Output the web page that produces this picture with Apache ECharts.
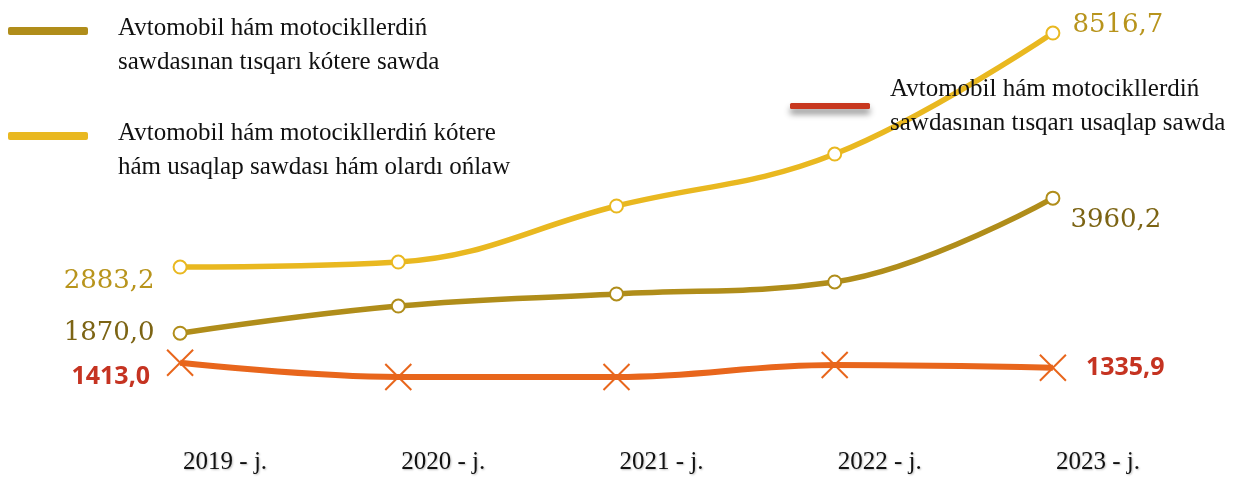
<!DOCTYPE html>
<html>
<head>
<meta charset="utf-8">
<script src="https://cdn.jsdelivr.net/npm/echarts@6/dist/echarts.min.js"></script>
<style>
  html, body { margin: 0; padding: 0; background: #fff; }
  #chart { width: 1250px; height: 481px; }
</style>
</head>
<body>
<div id="chart"></div>
<script>
// kategoriyalar (jıllar)
const years = ['2019 - j.', '2020 - j.', '2021 - j.', '2022 - j.', '2023 - j.']

// seriya atları (legend ushın qatarlarǵa bólingen)
const nameWholesale = 'Avtomobil hám motocikllerdiń\nsawdasınan tısqarı kótere sawda'
const nameMotor = 'Avtomobil hám motocikllerdiń kótere\nhám usaqlap sawdası hám olardı ońlaw'
const nameRetail = 'Avtomobil hám motocikllerdiń\nsawdasınan tısqarı usaqlap sawda'

// mánisler
const wholesale = [1870.0, 2290, 2477, 2663, 3960.2]
const motor = [2883.2, 3003, 4352, 5603, 8516.7]
const retail = [1413.0, 1192, 1192, 1378, 1335.9]

const chart = echarts.init(document.getElementById('chart'))

// tek birinshi hám sońǵı noqatlarǵa jazıw qoyamız
function withEndLabels (values, first, last) {
  return values.map((v, i) => {
    if (i === 0) return { value: v, label: Object.assign({ show: true, position: 'left' }, first) }
    if (i === values.length - 1) return { value: v, label: Object.assign({ show: true, position: 'right' }, last) }
    return v
  })
}

const serifNum = { fontFamily: 'DejaVu Serif', fontSize: 26 }
const boldRed = { fontFamily: 'Noto Sans', fontWeight: 'bold', fontSize: 25, color: '#C53321' }

// legend teksti sızıqtan sál tómende turıwı ushın bos qatar qosamız
const legendText = {
  fontFamily: 'Liberation Serif', fontSize: 25, lineHeight: 34, color: '#111',
  rich: {
    s: { fontSize: 10, lineHeight: 28 },
    t: { fontFamily: 'Liberation Serif', fontSize: 25, lineHeight: 34, color: '#111', padding: [0, 0, 0, 25] }
  }
}
const shiftDown = name => '{s| }\n' + name.split('\n').map(l => '{t|' + l + '}').join('\n')

const option = {
  animation: false,
  grid: { left: 71, right: 88, top: 20, bottom: 40 },
  legend: [
    {
      left: 8, top: -17, padding: 0,
      icon: 'roundRect', itemWidth: 80, itemHeight: 8,
      textStyle: legendText,
      formatter: shiftDown,
      data: [{ name: nameWholesale, itemStyle: { color: '#B08D1A', borderWidth: 0 } }]
    },
    {
      left: 8, top: 88, padding: 0,
      icon: 'roundRect', itemWidth: 80, itemHeight: 8,
      textStyle: legendText,
      formatter: shiftDown,
      data: [{ name: nameMotor, itemStyle: { color: '#E9B820', borderWidth: 0 } }]
    },
    {
      left: 790, top: 72, padding: 0,
      icon: 'roundRect', itemWidth: 80, itemHeight: 6,
      textStyle: { fontFamily: 'Liberation Serif', fontSize: 25, lineHeight: 34, color: '#111', padding: [0, 0, 0, 15] },
      data: [{
        name: nameRetail,
        itemStyle: { color: '#C8381F', borderWidth: 0, shadowBlur: 6, shadowColor: 'rgba(0,0,0,0.45)', shadowOffsetY: 5 }
      }]
    }
  ],
  xAxis: {
    type: 'category',
    data: years,
    axisLine: { show: false },
    axisTick: { show: false },
    axisLabel: {
      margin: 9,
      padding: [0, 0, 0, 90],
      fontFamily: 'Liberation Serif',
      fontSize: 25,
      color: '#111',
      textShadowColor: 'rgba(0,0,0,0.25)',
      textShadowBlur: 2,
      textShadowOffsetX: 1,
      textShadowOffsetY: 1
    }
  },
  yAxis: [
    { type: 'value', min: 201, max: 6718, show: false, splitLine: { show: false } },
    { type: 'value', min: -1305, max: 8830, show: false, splitLine: { show: false } }
  ],
  series: [
    {
      name: nameMotor,
      type: 'line',
      yAxisIndex: 1,
      smooth: 0.4,
      symbol: 'emptyCircle',
      symbolSize: 13,
      lineStyle: { color: '#E9B820', width: 5.5 },
      itemStyle: { color: '#E9B820', borderWidth: 2 },
      data: withEndLabels(motor,
        Object.assign({ color: '#B8941C', distance: 18, offset: [0, 14] }, serifNum),
        Object.assign({ color: '#B8941C', distance: 12, offset: [0, -8] }, serifNum)),
      label: { formatter: p => p.value.toFixed(1).replace('.', ',') }
    },
    {
      name: nameWholesale,
      type: 'line',
      smooth: 0.4,
      symbol: 'emptyCircle',
      symbolSize: 13,
      lineStyle: { color: '#B08D1A', width: 5.5 },
      itemStyle: { color: '#B08D1A', borderWidth: 2 },
      data: withEndLabels(wholesale,
        Object.assign({ color: '#7C6414', distance: 18 }, serifNum),
        Object.assign({ color: '#7C6414', distance: 10, offset: [0, 22] }, serifNum)),
      label: { formatter: p => p.value.toFixed(1).replace('.', ',') }
    },
    {
      name: nameRetail,
      type: 'line',
      smooth: 0.4,
      symbol: 'path://M0,0L26,26M26,0L0,26',
      symbolSize: 26,
      lineStyle: { color: '#E8661C', width: 6 },
      itemStyle: { color: '#E8661C', borderColor: '#E8661C', borderWidth: 2 },
      data: withEndLabels(retail,
        Object.assign({ distance: 16, offset: [0, 14] }, boldRed),
        Object.assign({ distance: 19 }, boldRed)),
      label: { formatter: p => p.value.toFixed(1).replace('.', ',') }
    }
  ]
}

chart.setOption(option)
</script>
</body>
</html>
